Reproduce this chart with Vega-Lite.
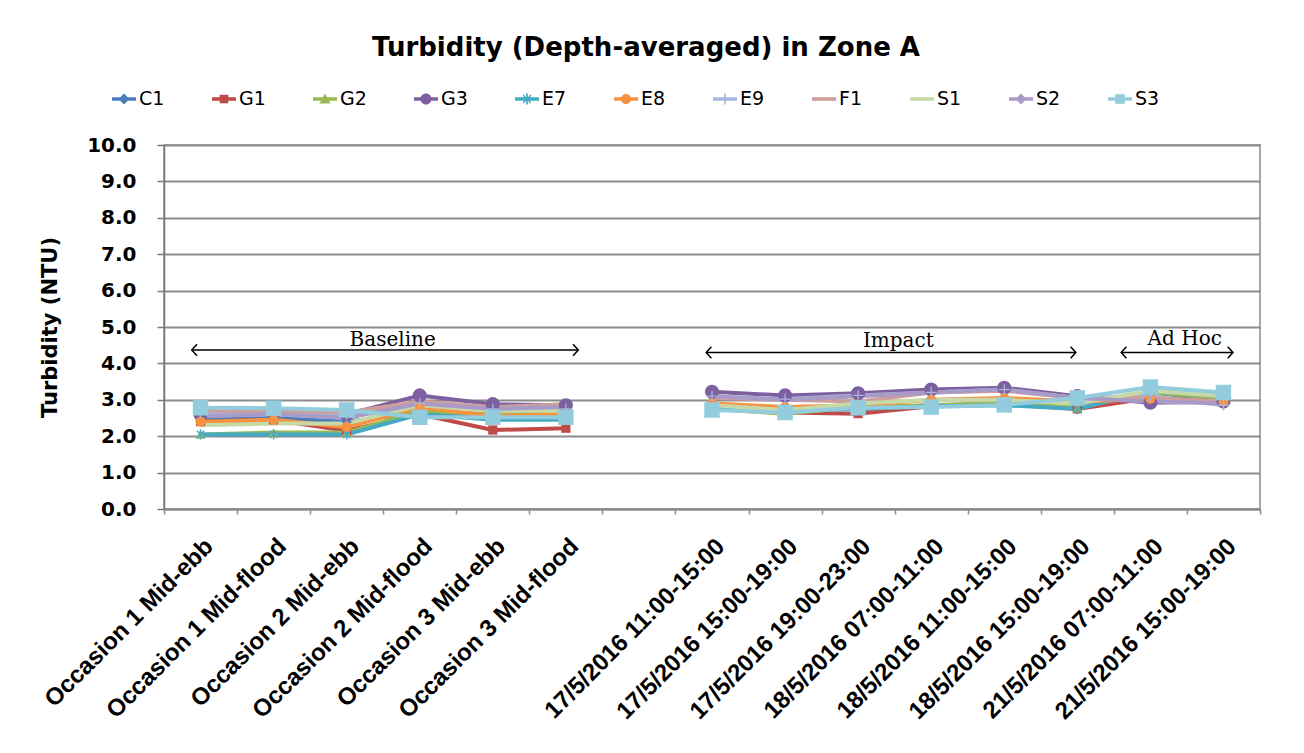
{
  "$schema": "https://vega.github.io/schema/vega-lite/v6.json",
  "width": 1096,
  "height": 364,
  "autosize": {"type": "none"},
  "padding": {"left": 164, "top": 145, "right": 44, "bottom": 244},
  "background": "white",
  "config": {
    "view": {"stroke": "#8a8a8a", "strokeWidth": 1.5},
    "font": "DejaVu Sans"
  },
  "title": {
    "text": "Turbidity (Depth-averaged) in Zone A",
    "font": "DejaVu Sans",
    "fontSize": 26,
    "fontWeight": "bold",
    "color": "black",
    "anchor": "middle",
    "dx": -66,
    "offset": 26
  },
  "datasets": {
    "turb": [
      {"cat": "Occasion 1 Mid-ebb", "series": "C1", "v": 2.45},
      {"cat": "Occasion 1 Mid-ebb", "series": "G1", "v": 2.4},
      {"cat": "Occasion 1 Mid-ebb", "series": "G2", "v": 2.05},
      {"cat": "Occasion 1 Mid-ebb", "series": "G3", "v": 2.6},
      {"cat": "Occasion 1 Mid-ebb", "series": "E7", "v": 2.05},
      {"cat": "Occasion 1 Mid-ebb", "series": "E8", "v": 2.4},
      {"cat": "Occasion 1 Mid-ebb", "series": "E9", "v": 2.65},
      {"cat": "Occasion 1 Mid-ebb", "series": "F1", "v": 2.7},
      {"cat": "Occasion 1 Mid-ebb", "series": "S1", "v": 2.3},
      {"cat": "Occasion 1 Mid-ebb", "series": "S2", "v": 2.55},
      {"cat": "Occasion 1 Mid-ebb", "series": "S3", "v": 2.78},
      {"cat": "Occasion 1 Mid-flood", "series": "C1", "v": 2.5},
      {"cat": "Occasion 1 Mid-flood", "series": "G1", "v": 2.45},
      {"cat": "Occasion 1 Mid-flood", "series": "G2", "v": 2.1},
      {"cat": "Occasion 1 Mid-flood", "series": "G3", "v": 2.65},
      {"cat": "Occasion 1 Mid-flood", "series": "E7", "v": 2.05},
      {"cat": "Occasion 1 Mid-flood", "series": "E8", "v": 2.45},
      {"cat": "Occasion 1 Mid-flood", "series": "E9", "v": 2.65},
      {"cat": "Occasion 1 Mid-flood", "series": "F1", "v": 2.7},
      {"cat": "Occasion 1 Mid-flood", "series": "S1", "v": 2.35},
      {"cat": "Occasion 1 Mid-flood", "series": "S2", "v": 2.6},
      {"cat": "Occasion 1 Mid-flood", "series": "S3", "v": 2.77},
      {"cat": "Occasion 2 Mid-ebb", "series": "C1", "v": 2.4},
      {"cat": "Occasion 2 Mid-ebb", "series": "G1", "v": 2.15},
      {"cat": "Occasion 2 Mid-ebb", "series": "G2", "v": 2.1},
      {"cat": "Occasion 2 Mid-ebb", "series": "G3", "v": 2.6},
      {"cat": "Occasion 2 Mid-ebb", "series": "E7", "v": 2.05},
      {"cat": "Occasion 2 Mid-ebb", "series": "E8", "v": 2.25},
      {"cat": "Occasion 2 Mid-ebb", "series": "E9", "v": 2.6},
      {"cat": "Occasion 2 Mid-ebb", "series": "F1", "v": 2.65},
      {"cat": "Occasion 2 Mid-ebb", "series": "S1", "v": 2.35},
      {"cat": "Occasion 2 Mid-ebb", "series": "S2", "v": 2.5},
      {"cat": "Occasion 2 Mid-ebb", "series": "S3", "v": 2.72},
      {"cat": "Occasion 2 Mid-flood", "series": "C1", "v": 2.65},
      {"cat": "Occasion 2 Mid-flood", "series": "G1", "v": 2.6},
      {"cat": "Occasion 2 Mid-flood", "series": "G2", "v": 2.7},
      {"cat": "Occasion 2 Mid-flood", "series": "G3", "v": 3.12},
      {"cat": "Occasion 2 Mid-flood", "series": "E7", "v": 2.6},
      {"cat": "Occasion 2 Mid-flood", "series": "E8", "v": 2.8},
      {"cat": "Occasion 2 Mid-flood", "series": "E9", "v": 2.9},
      {"cat": "Occasion 2 Mid-flood", "series": "F1", "v": 2.95},
      {"cat": "Occasion 2 Mid-flood", "series": "S1", "v": 2.85},
      {"cat": "Occasion 2 Mid-flood", "series": "S2", "v": 2.9},
      {"cat": "Occasion 2 Mid-flood", "series": "S3", "v": 2.52},
      {"cat": "Occasion 3 Mid-ebb", "series": "C1", "v": 2.5},
      {"cat": "Occasion 3 Mid-ebb", "series": "G1", "v": 2.17},
      {"cat": "Occasion 3 Mid-ebb", "series": "G2", "v": 2.6},
      {"cat": "Occasion 3 Mid-ebb", "series": "G3", "v": 2.88},
      {"cat": "Occasion 3 Mid-ebb", "series": "E7", "v": 2.45},
      {"cat": "Occasion 3 Mid-ebb", "series": "E8", "v": 2.55},
      {"cat": "Occasion 3 Mid-ebb", "series": "E9", "v": 2.75},
      {"cat": "Occasion 3 Mid-ebb", "series": "F1", "v": 2.8},
      {"cat": "Occasion 3 Mid-ebb", "series": "S1", "v": 2.7},
      {"cat": "Occasion 3 Mid-ebb", "series": "S2", "v": 2.75},
      {"cat": "Occasion 3 Mid-ebb", "series": "S3", "v": 2.52},
      {"cat": "Occasion 3 Mid-flood", "series": "C1", "v": 2.5},
      {"cat": "Occasion 3 Mid-flood", "series": "G1", "v": 2.22},
      {"cat": "Occasion 3 Mid-flood", "series": "G2", "v": 2.65},
      {"cat": "Occasion 3 Mid-flood", "series": "G3", "v": 2.85},
      {"cat": "Occasion 3 Mid-flood", "series": "E7", "v": 2.45},
      {"cat": "Occasion 3 Mid-flood", "series": "E8", "v": 2.6},
      {"cat": "Occasion 3 Mid-flood", "series": "E9", "v": 2.75},
      {"cat": "Occasion 3 Mid-flood", "series": "F1", "v": 2.88},
      {"cat": "Occasion 3 Mid-flood", "series": "S1", "v": 2.7},
      {"cat": "Occasion 3 Mid-flood", "series": "S2", "v": 2.8},
      {"cat": "Occasion 3 Mid-flood", "series": "S3", "v": 2.52},
      {"cat": " ", "series": "C1", "v": null},
      {"cat": " ", "series": "G1", "v": null},
      {"cat": " ", "series": "G2", "v": null},
      {"cat": " ", "series": "G3", "v": null},
      {"cat": " ", "series": "E7", "v": null},
      {"cat": " ", "series": "E8", "v": null},
      {"cat": " ", "series": "E9", "v": null},
      {"cat": " ", "series": "F1", "v": null},
      {"cat": " ", "series": "S1", "v": null},
      {"cat": " ", "series": "S2", "v": null},
      {"cat": " ", "series": "S3", "v": null},
      {"cat": "17/5/2016 11:00-15:00", "series": "C1", "v": 2.85},
      {"cat": "17/5/2016 11:00-15:00", "series": "G1", "v": 2.8},
      {"cat": "17/5/2016 11:00-15:00", "series": "G2", "v": 2.75},
      {"cat": "17/5/2016 11:00-15:00", "series": "G3", "v": 3.22},
      {"cat": "17/5/2016 11:00-15:00", "series": "E7", "v": 2.8},
      {"cat": "17/5/2016 11:00-15:00", "series": "E8", "v": 2.9},
      {"cat": "17/5/2016 11:00-15:00", "series": "E9", "v": 3.1},
      {"cat": "17/5/2016 11:00-15:00", "series": "F1", "v": 3.05},
      {"cat": "17/5/2016 11:00-15:00", "series": "S1", "v": 2.85},
      {"cat": "17/5/2016 11:00-15:00", "series": "S2", "v": 3.1},
      {"cat": "17/5/2016 11:00-15:00", "series": "S3", "v": 2.72},
      {"cat": "17/5/2016 15:00-19:00", "series": "C1", "v": 2.75},
      {"cat": "17/5/2016 15:00-19:00", "series": "G1", "v": 2.65},
      {"cat": "17/5/2016 15:00-19:00", "series": "G2", "v": 2.62},
      {"cat": "17/5/2016 15:00-19:00", "series": "G3", "v": 3.12},
      {"cat": "17/5/2016 15:00-19:00", "series": "E7", "v": 2.7},
      {"cat": "17/5/2016 15:00-19:00", "series": "E8", "v": 2.8},
      {"cat": "17/5/2016 15:00-19:00", "series": "E9", "v": 3.02},
      {"cat": "17/5/2016 15:00-19:00", "series": "F1", "v": 3.0},
      {"cat": "17/5/2016 15:00-19:00", "series": "S1", "v": 2.72},
      {"cat": "17/5/2016 15:00-19:00", "series": "S2", "v": 3.0},
      {"cat": "17/5/2016 15:00-19:00", "series": "S3", "v": 2.65},
      {"cat": "17/5/2016 19:00-23:00", "series": "C1", "v": 2.75},
      {"cat": "17/5/2016 19:00-23:00", "series": "G1", "v": 2.62},
      {"cat": "17/5/2016 19:00-23:00", "series": "G2", "v": 2.8},
      {"cat": "17/5/2016 19:00-23:00", "series": "G3", "v": 3.18},
      {"cat": "17/5/2016 19:00-23:00", "series": "E7", "v": 2.75},
      {"cat": "17/5/2016 19:00-23:00", "series": "E8", "v": 2.85},
      {"cat": "17/5/2016 19:00-23:00", "series": "E9", "v": 3.12},
      {"cat": "17/5/2016 19:00-23:00", "series": "F1", "v": 2.95},
      {"cat": "17/5/2016 19:00-23:00", "series": "S1", "v": 2.9},
      {"cat": "17/5/2016 19:00-23:00", "series": "S2", "v": 3.1},
      {"cat": "17/5/2016 19:00-23:00", "series": "S3", "v": 2.78},
      {"cat": "18/5/2016 07:00-11:00", "series": "C1", "v": 2.85},
      {"cat": "18/5/2016 07:00-11:00", "series": "G1", "v": 2.82},
      {"cat": "18/5/2016 07:00-11:00", "series": "G2", "v": 2.85},
      {"cat": "18/5/2016 07:00-11:00", "series": "G3", "v": 3.28},
      {"cat": "18/5/2016 07:00-11:00", "series": "E7", "v": 2.82},
      {"cat": "18/5/2016 07:00-11:00", "series": "E8", "v": 3.0},
      {"cat": "18/5/2016 07:00-11:00", "series": "E9", "v": 3.2},
      {"cat": "18/5/2016 07:00-11:00", "series": "F1", "v": 3.2},
      {"cat": "18/5/2016 07:00-11:00", "series": "S1", "v": 3.0},
      {"cat": "18/5/2016 07:00-11:00", "series": "S2", "v": 3.2},
      {"cat": "18/5/2016 07:00-11:00", "series": "S3", "v": 2.8},
      {"cat": "18/5/2016 11:00-15:00", "series": "C1", "v": 2.88},
      {"cat": "18/5/2016 11:00-15:00", "series": "G1", "v": 2.88},
      {"cat": "18/5/2016 11:00-15:00", "series": "G2", "v": 2.92},
      {"cat": "18/5/2016 11:00-15:00", "series": "G3", "v": 3.33},
      {"cat": "18/5/2016 11:00-15:00", "series": "E7", "v": 2.85},
      {"cat": "18/5/2016 11:00-15:00", "series": "E8", "v": 3.05},
      {"cat": "18/5/2016 11:00-15:00", "series": "E9", "v": 3.28},
      {"cat": "18/5/2016 11:00-15:00", "series": "F1", "v": 3.25},
      {"cat": "18/5/2016 11:00-15:00", "series": "S1", "v": 3.0},
      {"cat": "18/5/2016 11:00-15:00", "series": "S2", "v": 3.28},
      {"cat": "18/5/2016 11:00-15:00", "series": "S3", "v": 2.86},
      {"cat": "18/5/2016 15:00-19:00", "series": "C1", "v": 2.78},
      {"cat": "18/5/2016 15:00-19:00", "series": "G1", "v": 2.75},
      {"cat": "18/5/2016 15:00-19:00", "series": "G2", "v": 2.78},
      {"cat": "18/5/2016 15:00-19:00", "series": "G3", "v": 3.1},
      {"cat": "18/5/2016 15:00-19:00", "series": "E7", "v": 2.75},
      {"cat": "18/5/2016 15:00-19:00", "series": "E8", "v": 2.95},
      {"cat": "18/5/2016 15:00-19:00", "series": "E9", "v": 3.05},
      {"cat": "18/5/2016 15:00-19:00", "series": "F1", "v": 3.05},
      {"cat": "18/5/2016 15:00-19:00", "series": "S1", "v": 2.9},
      {"cat": "18/5/2016 15:00-19:00", "series": "S2", "v": 3.05},
      {"cat": "18/5/2016 15:00-19:00", "series": "S3", "v": 3.05},
      {"cat": "21/5/2016 07:00-11:00", "series": "C1", "v": 3.2},
      {"cat": "21/5/2016 07:00-11:00", "series": "G1", "v": 3.05},
      {"cat": "21/5/2016 07:00-11:00", "series": "G2", "v": 3.2},
      {"cat": "21/5/2016 07:00-11:00", "series": "G3", "v": 2.92},
      {"cat": "21/5/2016 07:00-11:00", "series": "E7", "v": 3.25},
      {"cat": "21/5/2016 07:00-11:00", "series": "E8", "v": 3.02},
      {"cat": "21/5/2016 07:00-11:00", "series": "E9", "v": 3.1},
      {"cat": "21/5/2016 07:00-11:00", "series": "F1", "v": 3.05},
      {"cat": "21/5/2016 07:00-11:00", "series": "S1", "v": 3.25},
      {"cat": "21/5/2016 07:00-11:00", "series": "S2", "v": 2.95},
      {"cat": "21/5/2016 07:00-11:00", "series": "S3", "v": 3.35},
      {"cat": "21/5/2016 15:00-19:00", "series": "C1", "v": 3.0},
      {"cat": "21/5/2016 15:00-19:00", "series": "G1", "v": 2.95},
      {"cat": "21/5/2016 15:00-19:00", "series": "G2", "v": 3.05},
      {"cat": "21/5/2016 15:00-19:00", "series": "G3", "v": 2.95},
      {"cat": "21/5/2016 15:00-19:00", "series": "E7", "v": 3.1},
      {"cat": "21/5/2016 15:00-19:00", "series": "E8", "v": 2.95},
      {"cat": "21/5/2016 15:00-19:00", "series": "E9", "v": 2.85},
      {"cat": "21/5/2016 15:00-19:00", "series": "F1", "v": 2.95},
      {"cat": "21/5/2016 15:00-19:00", "series": "S1", "v": 3.1},
      {"cat": "21/5/2016 15:00-19:00", "series": "S2", "v": 2.9},
      {"cat": "21/5/2016 15:00-19:00", "series": "S3", "v": 3.2}
    ],
    "ann": [
      {"label": "Baseline", "xa": 0.38, "xb": 5.67, "ya": 4.37, "xt": 3.13, "yt": 4.64},
      {"label": "Impact", "xa": 7.42, "xb": 12.48, "ya": 4.3, "xt": 10.05, "yt": 4.62},
      {"label": "Ad Hoc", "xa": 13.1, "xb": 14.63, "ya": 4.3, "xt": 13.97, "yt": 4.66}
    ]
  },
  "layer": [
    {
      "data": {"name": "turb"},
      "encoding": {
        "x": {
          "field": "cat",
          "type": "nominal",
          "sort": null,
          "title": null,
          "scale": {
            "type": "band",
            "paddingInner": 0,
            "paddingOuter": 0,
            "domain": ["Occasion 1 Mid-ebb", "Occasion 1 Mid-flood", "Occasion 2 Mid-ebb", "Occasion 2 Mid-flood", "Occasion 3 Mid-ebb", "Occasion 3 Mid-flood", " ", "17/5/2016 11:00-15:00", "17/5/2016 15:00-19:00", "17/5/2016 19:00-23:00", "18/5/2016 07:00-11:00", "18/5/2016 11:00-15:00", "18/5/2016 15:00-19:00", "21/5/2016 07:00-11:00", "21/5/2016 15:00-19:00"]
          },
          "axis": {
            "labelAngle": -45,
            "labelAlign": "right",
            "labelBaseline": "top",
            "labelFont": "Liberation Sans",
            "labelFontWeight": "bold",
            "labelFontSize": 24,
            "labelColor": "black",
            "labelLimit": 400,
            "labelOverlap": false,
            "labelPadding": 20,
            "tickBand": "extent",
            "tickSize": 5,
            "tickColor": "#8a8a8a",
            "tickWidth": 1.5,
            "domainColor": "#8a8a8a",
            "domainWidth": 2,
            "grid": false
          }
        },
        "y": {
          "field": "v",
          "type": "quantitative",
          "title": "Turbidity (NTU)",
          "scale": {"domain": [0, 10], "nice": false},
          "axis": {
            "values": [0, 1, 2, 3, 4, 5, 6, 7, 8, 9, 10],
            "format": ".1f",
            "grid": true,
            "gridColor": "#8c8c8c",
            "gridWidth": 2,
            "domainColor": "#7a7a7a",
            "domainWidth": 1.5,
            "tickColor": "#7a7a7a",
            "tickSize": 7,
            "tickWidth": 1.5,
            "labelFont": "DejaVu Sans",
            "labelFontWeight": "bold",
            "labelFontSize": 20,
            "labelColor": "black",
            "labelPadding": 21,
            "titleFont": "DejaVu Sans",
            "titleFontSize": 21,
            "titleFontWeight": "bold",
            "titleColor": "black",
            "titlePadding": 26
          }
        },
        "color": {
          "field": "series",
          "type": "nominal",
          "scale": {
            "domain": ["C1", "G1", "G2", "G3", "E7", "E8", "E9", "F1", "S1", "S2", "S3"],
            "range": ["#4A7EBB", "#BE4B48", "#98B954", "#7D60A0", "#46AAC5", "#F69240", "#A8B6DE", "#CC9E9C", "#C8D9A8", "#A99BC7", "#93CDDD"]
          },
          "legend": null
        }
      },
      "layer": [
        {
          "mark": {"type": "point", "filled": true, "size": 529, "opacity": 0},
          "encoding": {
            "color": {
              "field": "series",
              "type": "nominal",
              "title": null,
              "legend": {
                "orient": "none",
                "legendX": -52,
                "legendY": -58,
                "direction": "horizontal",
                "columns": 11,
                "columnPadding": 47,
                "padding": 0,
                "symbolSize": 576,
                "symbolStrokeWidth": 0,
                "symbolOpacity": 1,
                "labelFont": "DejaVu Sans",
                "labelFontSize": 19,
                "labelColor": "black",
                "labelOffset": 3
              }
            },
            "shape": {
              "field": "series",
              "type": "nominal",
              "title": null,
              "scale": {
                "domain": ["C1", "G1", "G2", "G3", "E7", "E8", "E9", "F1", "S1", "S2", "S3"],
                "range": [
                  "M-1,-0.15H1V0.15H-1Z M0,-0.46L0.46,0L0,0.46L-0.46,0Z",
                  "M-1,-0.15H1V0.15H-1Z M-0.36,-0.36H0.36V0.36H-0.36Z",
                  "M-1,-0.15H1V0.15H-1Z M0,-0.46L0.46,0.38H-0.46Z",
                  "M-1,-0.15H1V0.15H-1Z M-0.46,0A0.46,0.46 0 1,1 0.46,0A0.46,0.46 0 1,1 -0.46,0Z",
                  "M-1,-0.15H1V0.15H-1Z M-0.07,-0.46H0.07V0.46H-0.07Z M-0.37,-0.29L-0.29,-0.37L0.37,0.29L0.29,0.37Z M0.29,-0.37L0.37,-0.29L-0.29,0.37L-0.37,0.29Z",
                  "M-1,-0.15H1V0.15H-1Z M-0.42,0A0.42,0.42 0 1,1 0.42,0A0.42,0.42 0 1,1 -0.42,0Z",
                  "M-1,-0.15H1V0.15H-1Z M-0.07,-0.46H0.07V0.46H-0.07Z",
                  "M-1,-0.15H1V0.15H-1Z",
                  "M-1,-0.15H1V0.15H-1Z",
                  "M-1,-0.15H1V0.15H-1Z M0,-0.46L0.46,0L0,0.46L-0.46,0Z",
                  "M-1,-0.15H1V0.15H-1Z M-0.4,-0.4H0.4V0.4H-0.4Z"
                ]
              },
              "legend": {
                "orient": "none",
                "legendX": -52,
                "legendY": -58,
                "direction": "horizontal",
                "columns": 11,
                "columnPadding": 47,
                "padding": 0,
                "symbolSize": 576,
                "symbolStrokeWidth": 0,
                "symbolOpacity": 1,
                "labelFont": "DejaVu Sans",
                "labelFontSize": 19,
                "labelColor": "black",
                "labelOffset": 3
              }
            }
          }
        },
        {
          "mark": {"type": "line", "strokeWidth": 4, "invalid": "break-paths-show-domains"},
          "encoding": {"detail": {"field": "series"}}
        },
        {
          "transform": [{"filter": {"field": "series", "oneOf": ["C1", "S2"]}}],
          "mark": {"type": "point", "shape": "diamond", "filled": true, "size": 110, "opacity": 1}
        },
        {
          "transform": [{"filter": {"field": "series", "equal": "G1"}}],
          "mark": {"type": "point", "shape": "square", "filled": true, "size": 85, "opacity": 1}
        },
        {
          "transform": [{"filter": {"field": "series", "equal": "G2"}}],
          "mark": {"type": "point", "shape": "triangle-up", "filled": true, "size": 100, "opacity": 1}
        },
        {
          "transform": [{"filter": {"field": "series", "equal": "G3"}}],
          "mark": {"type": "point", "shape": "circle", "filled": true, "size": 200, "opacity": 1}
        },
        {
          "transform": [{"filter": {"field": "series", "equal": "E7"}}],
          "mark": {"type": "point", "shape": "M-0.14,-1H0.14V1H-0.14Z M-0.8,-0.6L-0.6,-0.8L0.8,0.6L0.6,0.8Z M0.6,-0.8L0.8,-0.6L-0.6,0.8L-0.8,0.6Z", "filled": true, "size": 110, "opacity": 1}
        },
        {
          "transform": [{"filter": {"field": "series", "equal": "E8"}}],
          "mark": {"type": "point", "shape": "circle", "filled": true, "size": 100, "opacity": 1}
        },
        {
          "transform": [{"filter": {"field": "series", "equal": "E9"}}],
          "mark": {"type": "point", "shape": "M-1,-0.12H1V0.12H-1Z M-0.12,-1H0.12V1H-0.12Z", "filled": true, "size": 120, "opacity": 1}
        },
        {
          "transform": [{"filter": {"field": "series", "equal": "S3"}}],
          "mark": {"type": "point", "shape": "square", "filled": true, "size": 240, "opacity": 1}
        }
      ]
    },
    {
      "data": {"name": "ann"},
      "encoding": {
        "y": {"field": "ya", "type": "quantitative", "scale": {"domain": [0, 10], "nice": false}, "axis": null}
      },
      "layer": [
        {
          "mark": {"type": "rule", "color": "black", "strokeWidth": 1.5},
          "encoding": {
            "x": {"field": "xa", "type": "quantitative", "scale": {"domain": [0, 15], "nice": false, "zero": false}, "axis": null},
            "x2": {"field": "xb"}
          }
        },
        {
          "mark": {"type": "point", "shape": "M1,-1.1L0,0L1,1.1", "filled": false, "color": "black", "strokeWidth": 1.5, "size": 110, "opacity": 1},
          "encoding": {
            "x": {"field": "xa", "type": "quantitative", "scale": {"domain": [0, 15], "nice": false, "zero": false}, "axis": null}
          }
        },
        {
          "mark": {"type": "point", "shape": "M-1,-1.1L0,0L-1,1.1", "filled": false, "color": "black", "strokeWidth": 1.5, "size": 110, "opacity": 1},
          "encoding": {
            "x": {"field": "xb", "type": "quantitative", "scale": {"domain": [0, 15], "nice": false, "zero": false}, "axis": null}
          }
        },
        {
          "mark": {"type": "text", "font": "DejaVu Serif", "fontSize": 20, "color": "black", "baseline": "middle", "align": "center"},
          "encoding": {
            "x": {"field": "xt", "type": "quantitative", "scale": {"domain": [0, 15], "nice": false, "zero": false}, "axis": null},
            "y": {"field": "yt", "type": "quantitative", "scale": {"domain": [0, 10], "nice": false}, "axis": null},
            "text": {"field": "label"}
          }
        }
      ]
    }
  ],
  "resolve": {"scale": {"x": "independent", "y": "independent"}}
}
